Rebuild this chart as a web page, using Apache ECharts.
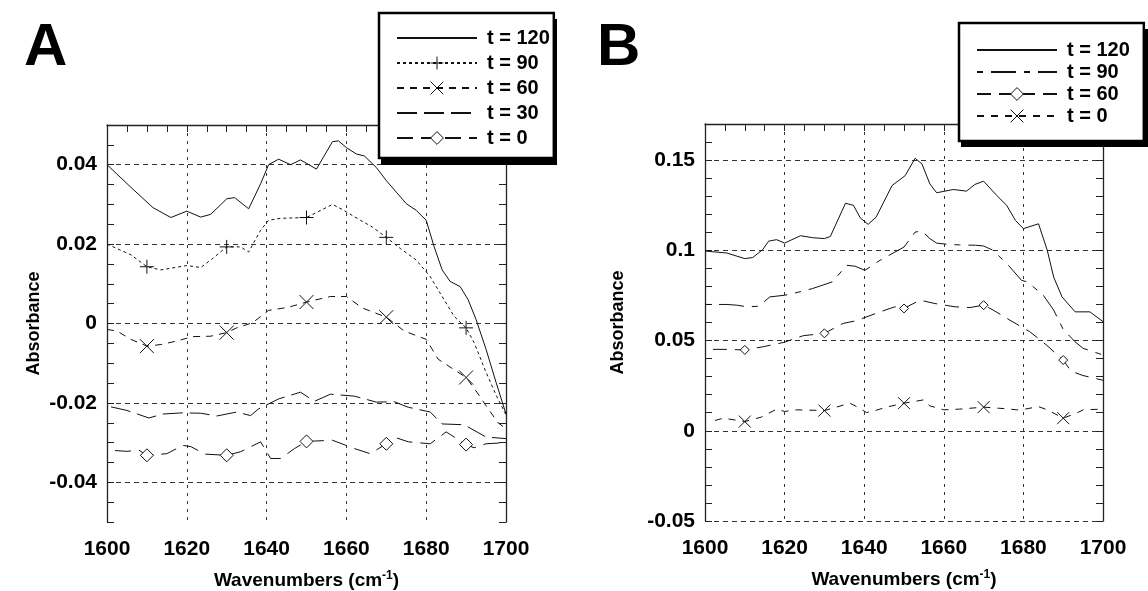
<!DOCTYPE html>
<html><head><meta charset="utf-8">
<script src="https://cdn.jsdelivr.net/npm/echarts@6/dist/echarts.min.js"></script>
<style>html,body{margin:0;padding:0;background:#fff}#c{width:1148px;height:591px}</style>
</head><body><div id="c"></div>
<script>
// ---------- tick labels ----------
const xTicks = [1600, 1620, 1640, 1660, 1680, 1700];
const yTicksA = [-0.04, -0.02, 0, 0.02, 0.04];
const yTicksB = [-0.05, 0, 0.05, 0.1, 0.15];
const markerWn = [1610, 1630, 1650, 1670, 1690];
const namesA = ['t = 120', 't = 90', 't = 60', 't = 30', 't = 0'];
const namesB = ['t = 120', 't = 90', 't = 60', 't = 0'];

// ---------- Panel A ----------
const wnA120 = [1600,1606,1611.5,1616,1620,1623.5,1626,1630,1632,1635.5,1638.5,1640.5,1643,1646,1648.5,1652.5,1656.5,1658,1660,1662.5,1664.5,1667.5,1670,1672.5,1675,1677.5,1680,1682,1684,1686,1688.5,1690.5,1692.5,1695,1697.5,1700];
const vA120 = [0.040,0.0343,0.0292,0.0267,0.0283,0.0268,0.0275,0.0314,0.0317,0.0289,0.0352,0.0400,0.0414,0.0400,0.0412,0.0389,0.0458,0.0460,0.0443,0.0427,0.0422,0.0393,0.0360,0.0331,0.0302,0.0285,0.0260,0.0193,0.0135,0.0106,0.0093,0.0060,0.0010,-0.0065,-0.0148,-0.0228];

const wnA90 = [1600,1606,1610,1613.5,1620,1623.5,1626.5,1630,1633.5,1635.5,1638.5,1640.5,1643.5,1650,1656.5,1659,1663.5,1666.5,1670,1673.5,1677.5,1681,1684,1687,1690,1692,1695,1697.5,1700];
const vA90 = [0.0200,0.0173,0.0143,0.0135,0.0146,0.0141,0.0164,0.0193,0.0193,0.0180,0.0235,0.0260,0.0265,0.0267,0.0300,0.0287,0.0260,0.0243,0.0217,0.0189,0.0160,0.0118,0.0068,0.0018,-0.0011,-0.0048,-0.0123,-0.0180,-0.0230];

const wnA60 = [1600,1602.5,1606,1610,1613.5,1617.5,1621.5,1626,1630,1632.5,1636.5,1640.5,1645.5,1650,1656,1660,1664,1670,1674.5,1680,1683,1690,1692.5,1695,1698,1700];
const vA60 = [-0.0015,-0.0019,-0.0040,-0.0057,-0.0053,-0.0044,-0.0033,-0.0032,-0.0023,-0.0011,0.0002,0.0033,0.0041,0.0054,0.0068,0.0068,0.0039,0.0016,-0.0019,-0.0040,-0.0090,-0.0136,-0.0170,-0.0207,-0.0250,-0.0265];

const wnA30 = [1601,1605,1610.5,1614,1619,1623.5,1627.5,1632.5,1636,1638,1643,1648.5,1652,1656,1662,1667.5,1672,1675.5,1681,1684,1689.5,1695,1700];
const vA30 = [-0.0210,-0.0219,-0.0238,-0.0228,-0.0225,-0.0226,-0.0233,-0.0223,-0.0232,-0.0215,-0.0190,-0.0173,-0.0196,-0.0178,-0.0183,-0.0198,-0.0197,-0.0211,-0.0223,-0.0253,-0.0255,-0.0286,-0.0290];

const wnA0 = [1602,1605,1608,1610,1615,1619,1621,1624.5,1630,1633.5,1638.5,1641,1643.5,1647,1650,1656.5,1662,1666,1670,1672.5,1675.5,1681,1685,1690,1692,1695,1700];
const vA0 = [-0.0320,-0.0322,-0.0319,-0.0332,-0.0328,-0.0307,-0.0310,-0.0329,-0.0332,-0.0323,-0.0298,-0.0340,-0.0340,-0.0315,-0.0297,-0.0294,-0.0315,-0.0328,-0.0303,-0.0288,-0.0298,-0.0303,-0.0273,-0.0305,-0.0313,-0.0303,-0.0300];

// ---------- Panel B ----------
const wnB120 = [1600,1605.5,1610,1612,1614.5,1616,1618,1620,1624,1627,1630,1631.5,1635.3,1637.3,1639,1641,1643,1647,1650.3,1652.8,1654.5,1656.5,1658.2,1662.4,1665.7,1667.8,1670,1673.3,1675.8,1678,1680,1683.8,1686,1687.6,1689.7,1693,1696.7,1700];
const vB120 = [0.0996,0.0985,0.0954,0.0960,0.1004,0.1051,0.1059,0.1040,0.1081,0.1070,0.1065,0.1077,0.1261,0.1249,0.1180,0.1144,0.1184,0.1359,0.1414,0.1510,0.1479,0.1368,0.1319,0.1337,0.1328,0.1365,0.1383,0.1304,0.1249,0.1166,0.1120,0.1147,0.1000,0.0852,0.0742,0.0659,0.0659,0.0605];

const wnB90 = [1600,1605.5,1608,1610.5,1613.5,1616.3,1620,1622,1627,1632,1635.6,1637.7,1640.2,1644,1650,1652.8,1654.5,1656.5,1658.2,1661,1664,1668,1670,1672.4,1676.6,1679.5,1681,1685,1687.6,1690,1693,1695,1700];
const vB90 = [0.0700,0.0700,0.0696,0.0687,0.0690,0.0742,0.0751,0.0760,0.0788,0.0825,0.0917,0.0912,0.0889,0.0945,0.1018,0.1101,0.1107,0.1065,0.1040,0.1033,0.1030,0.1028,0.1024,0.1000,0.0908,0.0834,0.0825,0.0751,0.0669,0.0562,0.0493,0.0457,0.0420];

const wnB60 = [1602,1605.5,1610,1614.7,1619.8,1624.7,1630,1634.7,1638,1644,1647.7,1650,1654,1657.8,1662.8,1666.6,1670,1672.4,1676.6,1681.6,1685.8,1690,1692,1695,1700];
const vB60 = [0.0451,0.0451,0.0448,0.0466,0.0490,0.0527,0.0540,0.0595,0.0610,0.0659,0.0687,0.0678,0.0724,0.0705,0.0687,0.0683,0.0696,0.0669,0.0613,0.0549,0.0475,0.0392,0.0330,0.0306,0.0280];

const wnB0 = [1602.5,1604.6,1610,1614.2,1618,1620,1623,1630,1633,1636.4,1638.1,1640.6,1642,1645.6,1650,1654.9,1656.5,1660,1664,1670,1673.7,1675.8,1678.3,1680.4,1683.8,1686,1690,1693.4,1695,1700];
const vB0 = [0.0057,0.0070,0.0051,0.0076,0.0120,0.0107,0.0116,0.0112,0.0131,0.0153,0.0134,0.0101,0.0107,0.0131,0.0153,0.0171,0.0138,0.0116,0.0120,0.0131,0.0125,0.0122,0.0116,0.0120,0.0134,0.0116,0.0070,0.0098,0.0116,0.0120];

// ---------- helpers ----------
const FONT = '"Liberation Sans", Arial, Helvetica, sans-serif';
const INK = '#111';
const SYM_PLUS = 'path://M5,0L5,10M0,5L10,5';
const SYM_CROSS = 'path://M0,0L10,10M10,0L0,10';

function build(wn, vals, withMarkers) {
  return wn.map((w, i) => {
    const isM = withMarkers && markerWn.indexOf(w) >= 0;
    return isM ? { value: [w, vals[i]] } : { value: [w, vals[i]], symbol: 'none' };
  });
}
function near(list, v) { return list.some(t => Math.abs(t - v) < 1e-7); }
function gridColors(min, max, step, list) {
  const out = [];
  const n = Math.round((max - min) / step);
  for (let k = 0; k <= n; k++) out.push(near(list, min + k * step) ? '#333' : 'rgba(0,0,0,0)');
  return out;
}
function fmt(v) { return String(+(+v).toFixed(2)); }

function line(name, grid, wn, vals, dash, symbol, symSize, markers, fill) {
  return {
    type: 'line', name: name,
    xAxisIndex: grid * 2, yAxisIndex: grid * 2,
    data: build(wn, vals, markers),
    symbol: symbol || 'none', symbolSize: symSize || 10,
    showSymbol: true, smooth: false, animation: false, silent: true,
    lineStyle: { color: INK, width: 1, type: dash || 'solid' },
    itemStyle: symbol ? { color: fill || 'rgba(255,255,255,0)', borderColor: INK, borderWidth: 1 }
                      : { color: 'rgba(0,0,0,0)', borderColor: 'rgba(0,0,0,0)', borderWidth: 0 },
    emphasis: { disabled: true },
    z: 3
  };
}

const gridA = { left: 107, top: 125, width: 399, height: 397 };
const gridB = { left: 705, top: 124, width: 398, height: 397 };
const axisLineStyle = { color: '#222', width: 1.3 };
const tickLabel = { fontFamily: FONT, fontWeight: 'bold', fontSize: 21, color: '#000' };

function xAxes(gi) {
  return [
    { type: 'value', gridIndex: gi, position: 'bottom', min: 1600, max: 1700, interval: 20,
      axisLine: { show: false, onZero: false }, axisTick: { show: false },
      axisLabel: Object.assign({ margin: 17, formatter: v => near(xTicks, v) ? String(v) : '' }, tickLabel),
      splitLine: { show: true, lineStyle: { color: '#333', width: 1, type: [3, 5] } },
      name: 'Wavenumbers (cm{sup|-1})', nameLocation: 'middle', nameGap: 48,
      nameTextStyle: { fontFamily: FONT, fontWeight: 'bold', fontSize: 19, color: '#000', lineHeight: 22,
        rich: { sup: { fontFamily: FONT, fontWeight: 'bold', fontSize: 12, color: '#000', verticalAlign: 'top', lineHeight: 12 } } }
    },
    { type: 'value', gridIndex: gi, position: 'top', min: 1600, max: 1700, interval: 5,
      axisLine: { show: true, onZero: false, lineStyle: axisLineStyle },
      axisTick: { show: true, inside: true, length: 7, lineStyle: { color: '#222', width: 1 } },
      axisLabel: { show: false }, splitLine: { show: false } }
  ];
}
function yAxes(gi, min, max, step, ticks, nameGap) {
  return [
    { type: 'value', gridIndex: gi, position: 'left', min: min, max: max, interval: step,
      axisLine: { show: true, onZero: false, lineStyle: axisLineStyle },
      axisTick: { show: true, inside: true, length: 7, lineStyle: { color: '#222', width: 1 } },
      axisLabel: Object.assign({ margin: 10, formatter: v => near(ticks, v) ? fmt(v) : '' }, tickLabel),
      splitLine: { show: true, lineStyle: { color: gridColors(min, max, step, ticks), width: 1, type: [5, 4] } },
      name: 'Absorbance', nameLocation: 'middle', nameRotate: 90, nameGap: nameGap,
      nameTextStyle: { fontFamily: FONT, fontWeight: 'bold', fontSize: 18, color: '#000' }
    },
    { type: 'value', gridIndex: gi, position: 'right', min: min, max: max, interval: step,
      axisLine: { show: true, onZero: false, lineStyle: axisLineStyle },
      axisTick: { show: true, inside: true, length: 7, lineStyle: { color: '#222', width: 1 } },
      axisLabel: { show: false }, splitLine: { show: false } }
  ];
}

function legend(left, top, names, prefix, gap, pad) {
  return {
    orient: 'vertical', left: left, top: top, z: 6,
    data: names.map(n => prefix + n),
    formatter: n => n.slice(prefix.length),
    itemWidth: 80, itemHeight: 16, itemGap: gap,
    padding: pad,
    backgroundColor: '#fff', borderColor: '#000', borderWidth: 2.5, borderRadius: 0,
    selectedMode: false,
    textStyle: { fontFamily: FONT, fontWeight: 'bold', fontSize: 20, color: '#000', lineHeight: 20, padding: [0, 0, 0, 5] },
    itemStyle: { borderWidth: 1 }
  };
}

const series = [
  line('A ' + namesA[0], 0, wnA120, vA120, 'solid'),
  line('A ' + namesA[1], 0, wnA90, vA90, [3, 3], SYM_PLUS, 14, true),
  line('A ' + namesA[2], 0, wnA60, vA60, [7, 6], SYM_CROSS, 14, true),
  line('A ' + namesA[3], 0, wnA30, vA30, [20, 7]),
  line('A ' + namesA[4], 0, wnA0, vA0, [16, 8], 'diamond', 13, true, '#fff'),
  line('B ' + namesB[0], 1, wnB120, vB120, 'solid'),
  line('B ' + namesB[1], 1, wnB90, vB90, [6, 8, 25, 8]),
  line('B ' + namesB[2], 1, wnB60, vB60, [14, 8], 'diamond', 9, true, '#fff'),
  line('B ' + namesB[3], 1, wnB0, vB0, [7, 7], SYM_CROSS, 12, true)
];

const option = {
  backgroundColor: '#fff',
  animation: false,
  grid: [Object.assign({ containLabel: false, outerBoundsMode: 'none' }, gridA),
         Object.assign({ containLabel: false, outerBoundsMode: 'none' }, gridB)],
  xAxis: xAxes(0).concat(xAxes(1)),
  yAxis: yAxes(0, -0.05, 0.05, 0.005, yTicksA, 64).concat(yAxes(1, -0.05, 0.17, 0.01, yTicksB, 78)),
  legend: [
    legend(379, 13, namesA, 'A ', 5, [15, 4, 10, 17]),
    legend(959, 23, namesB, 'B ', 2, [17, 14, 15, 17])
  ],
  graphic: [
    { type: 'text', left: 24, top: 18, style: { text: 'A', font: 'bold 60px ' + FONT, fill: '#000' } },
    { type: 'text', left: 597, top: 18, style: { text: 'B', font: 'bold 60px ' + FONT, fill: '#000' } },
    { type: 'rect', z: 5, shape: { x: 381, y: 19, width: 176, height: 146 }, style: { fill: '#000' } },
    { type: 'rect', z: 5, shape: { x: 961, y: 29, width: 190, height: 118 }, style: { fill: '#000' } }
  ],
  series: series
};

const chart = echarts.init(document.getElementById('c'), null, { renderer: 'canvas' });
chart.setOption(option);
</script>
</body></html>
